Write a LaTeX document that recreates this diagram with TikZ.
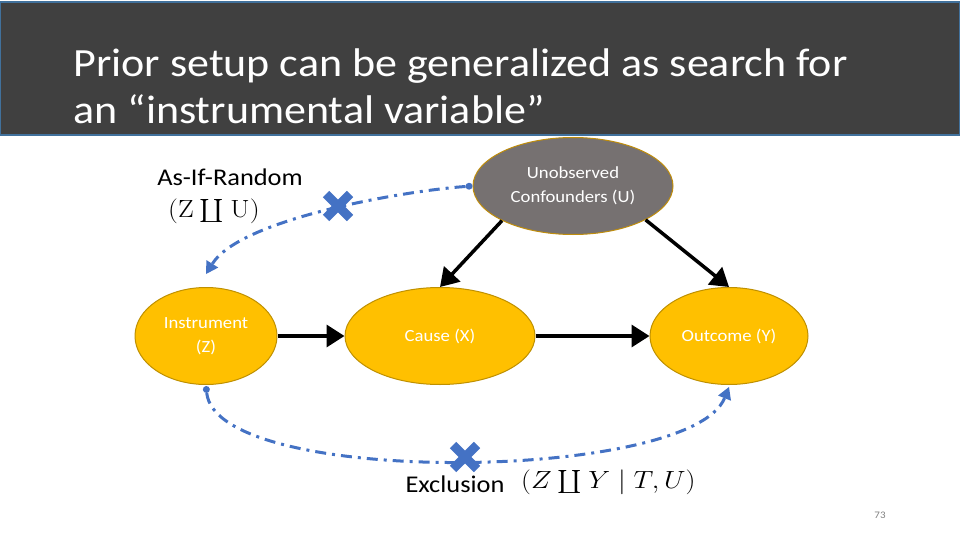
\documentclass[tikz,border=0pt]{standalone}
\usepackage{amsmath}
\usepackage{amssymb}
\usepackage{graphicx}
\usepackage[no-math]{fontspec}
\setmainfont[FakeStretch=1.1]{Carlito}
\usepackage{tikz}
\usetikzlibrary{shapes.geometric,arrows.meta}
\definecolor{titlegray}{HTML}{404040}
\definecolor{titleedge}{HTML}{41719C}
\definecolor{gold}{HTML}{FFC000}
\definecolor{goldedge}{HTML}{BF9000}
\definecolor{ugray}{HTML}{767171}
\definecolor{linkblue}{HTML}{4472C4}
\newcommand{\indepsym}{\mathbin{\textstyle\coprod}}
\tikzset{>=Triangle,
  varnode/.style={ellipse,draw=goldedge,line width=1pt,fill=gold,text=white,
    align=center,inner sep=0pt,font=\fontsize{17}{24}\selectfont},
  causal/.style={->,line width=3.5pt,
    >={Triangle[length=18pt,width=22pt]}},
  indep/.style={line width=3pt,draw=linkblue,
    dash pattern=on 11pt off 6pt on 3pt off 6pt,
    arrows={Circle[length=7pt,width=7pt,fill=linkblue,line width=0pt]-Triangle[length=12pt,width=14pt,fill=linkblue,line width=0pt]}},
  label/.style={font=\fontsize{24}{28}\selectfont,inner sep=0pt},
  formula/.style={font=\fontsize{23}{26}\selectfont,anchor=west,inner sep=0pt},
  nolink/.pic={\draw[linkblue,line width=9pt] (-12,-12) -- (12,12) (-12,12) -- (12,-12);}
}
\begin{document}
\begin{tikzpicture}[x=1pt,y=-1pt]
       \useasboundingbox (0,0) rectangle (960,540);
       % title bar
       \draw[fill=titlegray,draw=titleedge,line width=1.5pt] (0,2) rectangle (960,135);
       \node[anchor=west,text=white,align=left,font=\fontsize{40}{47}\selectfont] (title) at (70,86)
         {Prior setup can be generalized as search for\\an \textquotedblleft instrumental variable\textquotedblright};
       % variables
       \node[varnode,fill=ugray,draw=goldedge!80!brown,minimum width=200pt,minimum height=97pt] (U) at (573,186) {Unobserved\\Confounders (U)};
       \node[varnode,minimum width=142pt,minimum height=97pt] (Z) at (206,336) {Instrument\\(Z)};
       \node[varnode,minimum width=190pt,minimum height=97pt] (X) at (440,336) {Cause (X)};
       \node[varnode,minimum width=158pt,minimum height=97pt] (Y) at (729,336) {Outcome (Y)};
       % causal arrows
       \draw[causal] (U.206) -- (X.north);
       \draw[causal] (U.-25) -- (Y.north);
       \draw[causal] (Z) -- (X);
       \draw[causal] (X) -- (Y);
       % assumptions
       \draw[indep] (U.west) to[out=184,in=58,looseness=0.6] ([yshift=13pt]Z.north);
       \draw[indep] ([yshift=-1pt]Z.south) to[out=-84,in=-112,looseness=0.5] ([yshift=-2pt]Y.south);
       \pic at (338,206) {nolink};
       \pic at (465,457) {nolink};
       \node[label] (rand) at (230,177) {As-If-Random};
       \node[formula] (randfml) at (168,211) {\scalebox{1.12}[1]{$(\mathrm{Z}\indepsym\mathrm{U})$}};
       \node[label] (excl) at (455,484) {Exclusion};
       \node[formula] (exclfml) at (521,482) {\scalebox{1.12}[1]{$(Z\indepsym Y\mid T,U)$}};
       \node[text=gray,font=\fontsize{10}{12}\selectfont] (page) at (880,515) {73};
      \end{tikzpicture}
\end{document}
